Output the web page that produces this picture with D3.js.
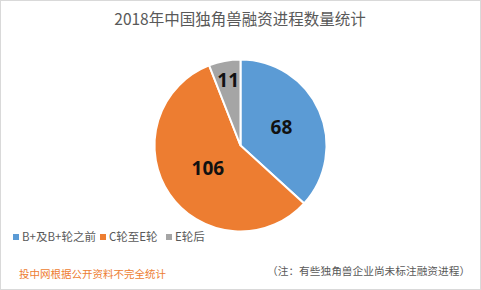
<!DOCTYPE html>
<html>
<head>
<meta charset="utf-8">
<script src="https://cdn.jsdelivr.net/npm/d3@7"></script>
<style>
  body { margin: 0; background: #fff; }
  svg { font-family: "Noto Sans CJK SC", "Microsoft YaHei", sans-serif; }
</style>
</head>
<body>
<div id="chart"></div>
<script>
var categories = ["B+及B+轮之前", "C轮至E轮", "E轮后"];
var values = [68, 106, 11];
var colors = ["#5b9bd5", "#ed7d31", "#a5a5a5"];
var titleText = "2018年中国独角兽融资进程数量统计";
var sourceText = "投中网根据公开资料不完全统计";
var noteText = "（注：有些独角兽企业尚未标注融资进程）";

var width = 481, height = 290;

var svg = d3.select("#chart")
  .append("svg")
    .attr("width", width)
    .attr("height", height);

// outer frame
svg.append("rect")
  .attr("x", 0.5).attr("y", 0.5)
  .attr("width", width - 1).attr("height", height - 1)
  .style("fill", "#fff")
  .style("stroke", "#d9d9d9");

svg.append("text")
  .attr("x", 240)
  .attr("y", 25)
  .attr("text-anchor", "middle")
  .style("font-size", "15.5px")
  .style("fill", "#595959")
  .text(titleText);

var cx = 240.5, cy = 145.5, radius = 86;

var pie = d3.pie().sort(null).value(function(d) { return d; });
var arcs = pie(values);

var arc = d3.arc().innerRadius(0).outerRadius(radius);
// label distance from the centre, as a fraction of the radius
var labelPos = [0.52, 0.46, 0.77];

var g = svg.append("g")
  .attr("transform", "translate(" + cx + "," + cy + ")");

g.selectAll("path")
  .data(arcs)
  .enter()
  .append("path")
    .attr("d", arc)
    .style("fill", function(d, i) { return colors[i]; })
    .style("stroke", "#fff")
    .style("stroke-width", 2);

g.selectAll(".lbl")
  .data(arcs)
  .enter()
  .append("text")
    .attr("class", "lbl")
    .attr("transform", function(d, i) {
      var r = radius * labelPos[i];
      var c = d3.arc().innerRadius(r).outerRadius(r).centroid(d);
      return "translate(" + c[0] + "," + c[1] + ")";
    })
    .attr("text-anchor", "middle")
    .attr("dy", "0.36em")
    .style("font-family", "'Open Sans', 'DejaVu Sans', sans-serif")
    .style("font-weight", "bold")
    .style("font-size", "19px")
    .style("fill", "#111")
    .text(function(d) { return d.data; });

// legend
var legendX = [13, 100, 166];
var legend = svg.append("g");
categories.forEach(function(c, i) {
  legend.append("rect")
    .attr("x", legendX[i]).attr("y", 234)
    .attr("width", 6).attr("height", 6)
    .style("fill", colors[i]);
  legend.append("text")
    .attr("x", legendX[i] + 9).attr("y", 241)
    .style("font-size", "11.5px")
    .style("fill", "#595959")
    .text(c);
});

svg.append("text")
  .attr("x", 19).attr("y", 278)
  .style("font-size", "10.5px")
  .style("fill", "#ed7d31")
  .text(sourceText);

svg.append("text")
  .attr("x", 267).attr("y", 275)
  .style("font-size", "10.7px")
  .style("fill", "#595959")
  .text(noteText);
</script>
</body>
</html>
